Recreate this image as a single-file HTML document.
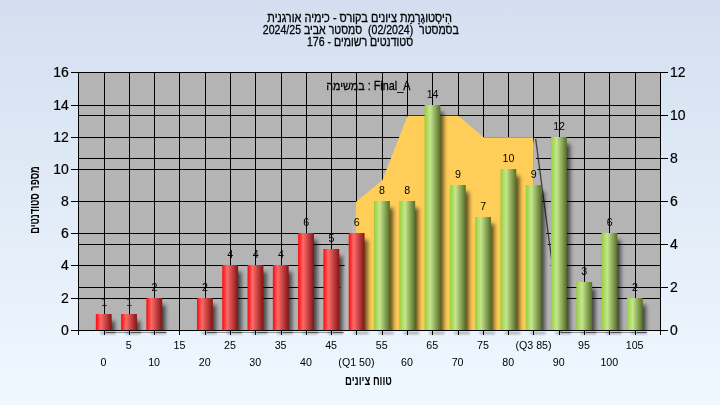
<!DOCTYPE html>
<html lang="he"><head><meta charset="utf-8"><title>היסטוגרמת ציונים</title>
<style>html,body{margin:0;padding:0;background:#f0f8ff;}body{width:720px;height:405px;overflow:hidden;}svg{display:block;}text{font-family:"Liberation Sans", "DejaVu Sans", sans-serif;fill:#000;}</style></head><body>
<svg width="720" height="405" viewBox="0 0 720 405">
<defs>
<linearGradient id="bg" x1="0" y1="0" x2="0" y2="1"><stop offset="0" stop-color="#d3dff0"/><stop offset="1" stop-color="#f0f8ff"/></linearGradient>
<linearGradient id="gr" x1="0" y1="0" x2="1" y2="0"><stop offset="0" stop-color="#ff0808"/><stop offset="0.31" stop-color="#ff6a6a"/><stop offset="1" stop-color="#841414"/></linearGradient>
<linearGradient id="gg" x1="0" y1="0" x2="1" y2="0"><stop offset="0" stop-color="#96d03a"/><stop offset="0.36" stop-color="#c6e68e"/><stop offset="1" stop-color="#546d27"/></linearGradient>
<filter id="sh" x="-50%" y="-10%" width="200%" height="130%"><feGaussianBlur stdDeviation="2.0"/></filter>
<filter id="sh2" x="-20%" y="-300%" width="140%" height="700%"><feGaussianBlur stdDeviation="0.45"/></filter>
<filter id="sh3" x="-30%" y="-300%" width="160%" height="700%"><feGaussianBlur stdDeviation="1.1"/></filter>
</defs>
<rect x="0" y="0" width="720" height="405" fill="url(#bg)"/>
<rect x="78.00" y="72.00" width="583.00" height="259.00" fill="#b4b4b4"/>
<g fill="#000" shape-rendering="crispEdges">
<rect x="78" y="72" width="1" height="263"/>
<rect x="104" y="72" width="1" height="263"/>
<rect x="129" y="72" width="1" height="263"/>
<rect x="154" y="72" width="1" height="263"/>
<rect x="179" y="72" width="1" height="263"/>
<rect x="205" y="72" width="1" height="263"/>
<rect x="230" y="72" width="1" height="263"/>
<rect x="255" y="72" width="1" height="263"/>
<rect x="281" y="72" width="1" height="263"/>
<rect x="306" y="72" width="1" height="263"/>
<rect x="331" y="72" width="1" height="263"/>
<rect x="356" y="72" width="1" height="263"/>
<rect x="382" y="72" width="1" height="263"/>
<rect x="407" y="72" width="1" height="263"/>
<rect x="432" y="72" width="1" height="263"/>
<rect x="458" y="72" width="1" height="263"/>
<rect x="483" y="72" width="1" height="263"/>
<rect x="508" y="72" width="1" height="263"/>
<rect x="533" y="72" width="1" height="263"/>
<rect x="559" y="72" width="1" height="263"/>
<rect x="584" y="72" width="1" height="263"/>
<rect x="609" y="72" width="1" height="263"/>
<rect x="635" y="72" width="1" height="263"/>
<rect x="660" y="72" width="1" height="263"/>
<rect x="71" y="330" width="590" height="1"/>
<rect x="71" y="298" width="590" height="1"/>
<rect x="71" y="265" width="590" height="1"/>
<rect x="71" y="233" width="590" height="1"/>
<rect x="71" y="201" width="590" height="1"/>
<rect x="71" y="169" width="590" height="1"/>
<rect x="71" y="137" width="590" height="1"/>
<rect x="71" y="105" width="590" height="1"/>
<rect x="71" y="72" width="590" height="1"/>
<rect x="78" y="330" width="590" height="1"/>
<rect x="78" y="287" width="590" height="1"/>
<rect x="78" y="244" width="590" height="1"/>
<rect x="78" y="201" width="590" height="1"/>
<rect x="78" y="158" width="590" height="1"/>
<rect x="78" y="115" width="590" height="1"/>
<rect x="78" y="72" width="590" height="1"/>
</g>
<line x1="535.67" y1="138.80" x2="561.16" y2="331.50" stroke="#333" stroke-width="1.3" opacity="0.9"/>
<polygon points="331.75,331 357.04,201.80 357.04,331" fill="#bbbbbb"/>
<polygon points="533.07,331 533.07,137.30 559.36,331" fill="#b6b6b6"/>
<polygon points="356.04,331.00 356.04,201.80 382.33,180.30 407.62,115.80 432.91,115.80 458.20,115.80 483.49,137.30 508.78,137.30 533.07,137.30 533.07,331.00" fill="#ffce58"/>
<clipPath id="cp"><rect x="70" y="60" width="600" height="270.5"/></clipPath>
<g clip-path="url(#cp)"><g filter="url(#sh)" fill="#000" opacity="0.62">
<rect x="99.14" y="321.00" width="15.80" height="15.00"/>
<rect x="124.43" y="321.00" width="15.80" height="15.00"/>
<rect x="149.72" y="305.00" width="15.80" height="31.00"/>
<rect x="200.30" y="305.00" width="15.80" height="31.00"/>
<rect x="225.59" y="272.00" width="15.80" height="64.00"/>
<rect x="250.88" y="272.00" width="15.80" height="64.00"/>
<rect x="276.17" y="272.00" width="15.80" height="64.00"/>
<rect x="301.46" y="240.00" width="15.80" height="96.00"/>
<rect x="326.75" y="256.00" width="15.80" height="80.00"/>
<rect x="352.04" y="240.00" width="15.80" height="96.00"/>
<rect x="377.33" y="208.00" width="15.80" height="128.00"/>
<rect x="402.62" y="208.00" width="15.80" height="128.00"/>
<rect x="427.91" y="112.00" width="15.80" height="224.00"/>
<rect x="453.20" y="192.00" width="15.80" height="144.00"/>
<rect x="478.49" y="224.00" width="15.80" height="112.00"/>
<rect x="503.78" y="176.00" width="15.80" height="160.00"/>
<rect x="529.07" y="192.00" width="15.80" height="144.00"/>
<rect x="554.36" y="144.00" width="15.80" height="192.00"/>
<rect x="579.65" y="289.00" width="15.80" height="47.00"/>
<rect x="604.94" y="240.00" width="15.80" height="96.00"/>
<rect x="630.23" y="305.00" width="15.80" height="31.00"/>
</g></g>
<g fill="#000" opacity="0.3" filter="url(#sh3)">
<rect x="100.3" y="331.8" width="15.3" height="2.4"/>
<rect x="125.6" y="331.8" width="15.3" height="2.4"/>
<rect x="150.9" y="331.8" width="15.3" height="2.4"/>
<rect x="201.5" y="331.8" width="15.3" height="2.4"/>
<rect x="226.8" y="331.8" width="15.3" height="2.4"/>
<rect x="252.1" y="331.8" width="15.3" height="2.4"/>
<rect x="277.4" y="331.8" width="15.3" height="2.4"/>
<rect x="302.7" y="331.8" width="15.3" height="2.4"/>
<rect x="327.9" y="331.8" width="15.3" height="2.4"/>
<rect x="353.2" y="331.8" width="15.3" height="2.4"/>
<rect x="378.5" y="331.8" width="15.3" height="2.4"/>
<rect x="403.8" y="331.8" width="15.3" height="2.4"/>
<rect x="429.1" y="331.8" width="15.3" height="2.4"/>
<rect x="454.4" y="331.8" width="15.3" height="2.4"/>
<rect x="479.7" y="331.8" width="15.3" height="2.4"/>
<rect x="505.0" y="331.8" width="15.3" height="2.4"/>
<rect x="530.3" y="331.8" width="15.3" height="2.4"/>
<rect x="555.6" y="331.8" width="15.3" height="2.4"/>
<rect x="580.9" y="331.8" width="15.3" height="2.4"/>
<rect x="606.1" y="331.8" width="15.3" height="2.4"/>
<rect x="631.4" y="331.8" width="15.3" height="2.4"/>
</g>
<g fill="#000" filter="url(#sh2)">
<rect x="105.6" y="331.9" width="10.2" height="1.1" opacity="0.6"/>
<rect x="115.8" y="331.9" width="13.2" height="1.1" opacity="0.4"/>
<rect x="130.6" y="331.9" width="10.5" height="1.1" opacity="0.6"/>
<rect x="141.1" y="331.9" width="12.9" height="1.1" opacity="0.4"/>
<rect x="155.6" y="331.9" width="10.8" height="1.1" opacity="0.6"/>
<rect x="206.6" y="331.9" width="10.4" height="1.1" opacity="0.6"/>
<rect x="217.0" y="331.9" width="13.0" height="1.1" opacity="0.4"/>
<rect x="231.6" y="331.9" width="10.7" height="1.1" opacity="0.6"/>
<rect x="242.3" y="331.9" width="12.7" height="1.1" opacity="0.4"/>
<rect x="256.6" y="331.9" width="11.0" height="1.1" opacity="0.6"/>
<rect x="267.6" y="331.9" width="13.4" height="1.1" opacity="0.4"/>
<rect x="282.6" y="331.9" width="10.3" height="1.1" opacity="0.6"/>
<rect x="292.9" y="331.9" width="13.1" height="1.1" opacity="0.4"/>
<rect x="307.6" y="331.9" width="10.6" height="1.1" opacity="0.6"/>
<rect x="318.2" y="331.9" width="12.8" height="1.1" opacity="0.4"/>
<rect x="332.6" y="331.9" width="10.8" height="1.1" opacity="0.6"/>
<rect x="560.6" y="331.9" width="10.5" height="1.1" opacity="0.6"/>
<rect x="571.1" y="331.9" width="12.9" height="1.1" opacity="0.4"/>
<rect x="585.6" y="331.9" width="10.8" height="1.1" opacity="0.6"/>
<rect x="596.4" y="331.9" width="12.6" height="1.1" opacity="0.4"/>
<rect x="610.6" y="331.9" width="11.0" height="1.1" opacity="0.6"/>
<rect x="621.6" y="331.9" width="13.4" height="1.1" opacity="0.4"/>
<rect x="636.6" y="331.9" width="10.3" height="1.1" opacity="0.6"/>
</g>
<rect x="95.84" y="314.00" width="15.80" height="16.00" fill="url(#gr)"/>
<rect x="121.13" y="314.00" width="15.80" height="16.00" fill="url(#gr)"/>
<rect x="146.42" y="298.00" width="15.80" height="32.00" fill="url(#gr)"/>
<rect x="197.00" y="298.00" width="15.80" height="32.00" fill="url(#gr)"/>
<rect x="222.29" y="265.00" width="15.80" height="65.00" fill="url(#gr)"/>
<rect x="247.58" y="265.00" width="15.80" height="65.00" fill="url(#gr)"/>
<rect x="272.87" y="265.00" width="15.80" height="65.00" fill="url(#gr)"/>
<rect x="298.16" y="233.00" width="15.80" height="97.00" fill="url(#gr)"/>
<rect x="323.45" y="249.00" width="15.80" height="81.00" fill="url(#gr)"/>
<rect x="348.74" y="233.00" width="15.80" height="97.00" fill="url(#gr)"/>
<rect x="374.03" y="201.00" width="15.80" height="129.00" fill="url(#gg)"/>
<rect x="399.32" y="201.00" width="15.80" height="129.00" fill="url(#gg)"/>
<rect x="424.61" y="105.00" width="15.80" height="225.00" fill="url(#gg)"/>
<rect x="449.90" y="185.00" width="15.80" height="145.00" fill="url(#gg)"/>
<rect x="475.19" y="217.00" width="15.80" height="113.00" fill="url(#gg)"/>
<rect x="500.48" y="169.00" width="15.80" height="161.00" fill="url(#gg)"/>
<rect x="525.77" y="185.00" width="15.80" height="145.00" fill="url(#gg)"/>
<rect x="551.06" y="137.00" width="15.80" height="193.00" fill="url(#gg)"/>
<rect x="576.35" y="282.00" width="15.80" height="48.00" fill="url(#gg)"/>
<rect x="601.64" y="233.00" width="15.80" height="97.00" fill="url(#gg)"/>
<rect x="626.93" y="298.00" width="15.80" height="32.00" fill="url(#gg)"/>
<g stroke="#000" stroke-width="1" shape-rendering="crispEdges">
<line x1="71.0" y1="330.5" x2="668.0" y2="330.5"/>
</g>
<g font-size="10.67" text-anchor="middle">
<text x="104.3" y="306.0">1</text>
<text x="129.3" y="306.0">1</text>
<text x="154.4" y="290.9">2</text>
<text x="205.0" y="290.9">2</text>
<text x="230.3" y="257.9">4</text>
<text x="255.6" y="257.9">4</text>
<text x="280.9" y="257.9">4</text>
<text x="306.2" y="225.9">6</text>
<text x="331.4" y="241.9">5</text>
<text x="356.7" y="225.9">6</text>
<text x="382.0" y="193.9">8</text>
<text x="407.3" y="193.9">8</text>
<text x="432.6" y="97.9">14</text>
<text x="457.9" y="177.9">9</text>
<text x="483.2" y="209.9">7</text>
<text x="508.5" y="161.9">10</text>
<text x="533.8" y="177.9">9</text>
<text x="559.1" y="129.9">12</text>
<text x="584.3" y="274.9">3</text>
<text x="609.6" y="225.9">6</text>
<text x="634.9" y="290.9">2</text>
</g>
<g font-size="14" text-anchor="end" stroke="#000" stroke-width="0.2">
<text x="68.9" y="335.1">0</text>
<text x="68.9" y="303.1">2</text>
<text x="68.9" y="270.1">4</text>
<text x="68.9" y="238.1">6</text>
<text x="68.9" y="206.1">8</text>
<text x="68.9" y="174.1">10</text>
<text x="68.9" y="142.1">12</text>
<text x="68.9" y="110.1">14</text>
<text x="68.9" y="77.1">16</text>
</g>
<g font-size="14" text-anchor="start" stroke="#000" stroke-width="0.2">
<text x="669.9" y="335.1">0</text>
<text x="669.9" y="292.1">2</text>
<text x="669.9" y="249.1">4</text>
<text x="669.9" y="206.1">6</text>
<text x="669.9" y="163.1">8</text>
<text x="669.9" y="120.1">10</text>
<text x="669.9" y="77.1">12</text>
</g>
<g font-size="10.67" text-anchor="middle">
<text x="103.5" y="366.3">0</text>
<text x="128.8" y="348.8">5</text>
<text x="154.1" y="366.3">10</text>
<text x="179.4" y="348.8">15</text>
<text x="204.7" y="366.3">20</text>
<text x="230.0" y="348.8">25</text>
<text x="255.3" y="366.3">30</text>
<text x="280.6" y="348.8">35</text>
<text x="305.9" y="366.3">40</text>
<text x="331.1" y="348.8">45</text>
<text x="356.4" y="366.3">(Q1 50)</text>
<text x="381.7" y="348.8">55</text>
<text x="407.0" y="366.3">60</text>
<text x="432.3" y="348.8">65</text>
<text x="457.6" y="366.3">70</text>
<text x="482.9" y="348.8">75</text>
<text x="508.2" y="366.3">80</text>
<text x="533.5" y="348.8">(Q3 85)</text>
<text x="558.8" y="366.3">90</text>
<text x="584.0" y="348.8">95</text>
<text x="609.3" y="366.3">100</text>
<text x="634.6" y="348.8">105</text>
</g>
<text transform="translate(359.58,21.90) scale(0.8686,1)" font-size="12.6" text-anchor="middle" xml:space="preserve" style="white-space:pre" direction="rtl" stroke="#000" stroke-width="0.3">הִיסְטוגְרָמַת ציונים בקורס - כימיה אורגנית</text>
<text transform="translate(360.86,33.90) scale(0.8384,1)" font-size="12.6" text-anchor="middle" xml:space="preserve" style="white-space:pre" direction="rtl" stroke="#000" stroke-width="0.3">בסמסטר  (02/2024)  סמסטר אביב 2024/25</text>
<text transform="translate(360.04,45.90) scale(0.8396,1)" font-size="12.6" text-anchor="middle" xml:space="preserve" style="white-space:pre" direction="rtl" stroke="#000" stroke-width="0.3">סטודנטים רשומים - 176</text>
<text transform="translate(368.26,89.80) scale(0.8719,1)" font-size="12.4" text-anchor="middle" xml:space="preserve" style="white-space:pre" stroke="#000" stroke-width="0.25">במשימה : Final_A</text>
<text transform="translate(368.46,384.70) scale(0.7585,1)" font-size="12.6" text-anchor="middle" xml:space="preserve" style="white-space:pre" direction="rtl" font-weight="bold">טווח ציונים</text>
<text transform="translate(38.6,200.00) rotate(-90) scale(0.7356,1)" font-size="12.6" text-anchor="middle" xml:space="preserve" style="white-space:pre" direction="rtl" font-weight="bold">מספר סטודנטים</text>
</svg></body></html>
